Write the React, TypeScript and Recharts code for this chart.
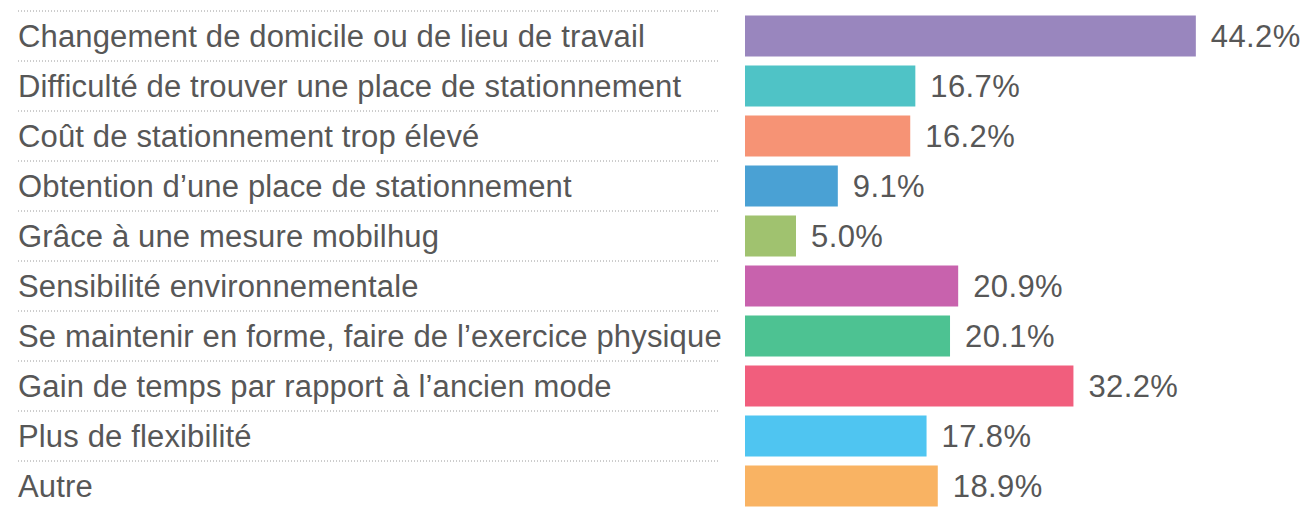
import React from 'react';
import { BarChart, Bar, XAxis, YAxis, Cell, LabelList } from 'recharts';

const categories = [
  'Changement de domicile ou de lieu de travail',
  'Difficulté de trouver une place de stationnement',
  'Coût de stationnement trop élevé',
  'Obtention d’une place de stationnement',
  'Grâce à une mesure mobilhug',
  'Sensibilité environnementale',
  'Se maintenir en forme, faire de l’exercice physique',
  'Gain de temps par rapport à l’ancien mode',
  'Plus de flexibilité',
  'Autre',
];

const values = [44.2, 16.7, 16.2, 9.1, 5.0, 20.9, 20.1, 32.2, 17.8, 18.9];

const colors = [
  '#9986be',
  '#4fc3c6',
  '#f69375',
  '#4aa1d4',
  '#a0c26f',
  '#c862ad',
  '#4dc292',
  '#f15e7d',
  '#4fc5f1',
  '#f9b363',
];

const data = categories.map((name, i) => ({ name, value: values[i] }));

const FONT = '"Liberation Sans", Arial, sans-serif';
const TEXT = '#575757';

const CategoryTick = (props: any) => {
  const { y, payload } = props;
  return (
    <g>
      <line
        x1={18}
        x2={719}
        y1={y - 25}
        y2={y - 25}
        stroke="#9a9a9a"
        strokeWidth={1}
        strokeDasharray="1 2"
      />
      <text
        x={18}
        y={y}
        dy={11}
        textAnchor="start"
        fontSize={31}
        fontFamily={FONT}
        fill={TEXT}
        style={{ letterSpacing: 0.15 }}
      >
        {payload.value}
      </text>
    </g>
  );
};

export default function App() {
  return (
    <div
      style={{
        position: 'absolute',
        left: 0,
        top: 0,
        width: 1303,
        height: 508,
        overflow: 'hidden',
        background: '#fff',
      }}
    >
      <BarChart
        width={1303}
        height={511}
        data={data}
        layout="vertical"
        margin={{ top: 11, right: 48, bottom: 0, left: 0 }}
        barCategoryGap="9%"
      >
        <XAxis type="number" domain={[0, 50]} hide />
        <YAxis
          type="category"
          dataKey="name"
          width={745}
          axisLine={false}
          tickLine={false}
          interval={0}
          tick={<CategoryTick />}
        />
        <Bar dataKey="value" isAnimationActive={false}>
          {data.map((entry, index) => (
            <Cell key={`cell-${index}`} fill={colors[index]} />
          ))}
          <LabelList
            dataKey="value"
            position="right"
            offset={15}
            formatter={(v: any) => `${Number(v).toFixed(1)}%`}
            style={{ fontSize: 31, fontFamily: FONT, fill: TEXT, letterSpacing: 0.4 }}
          />
        </Bar>
      </BarChart>
    </div>
  );
}
